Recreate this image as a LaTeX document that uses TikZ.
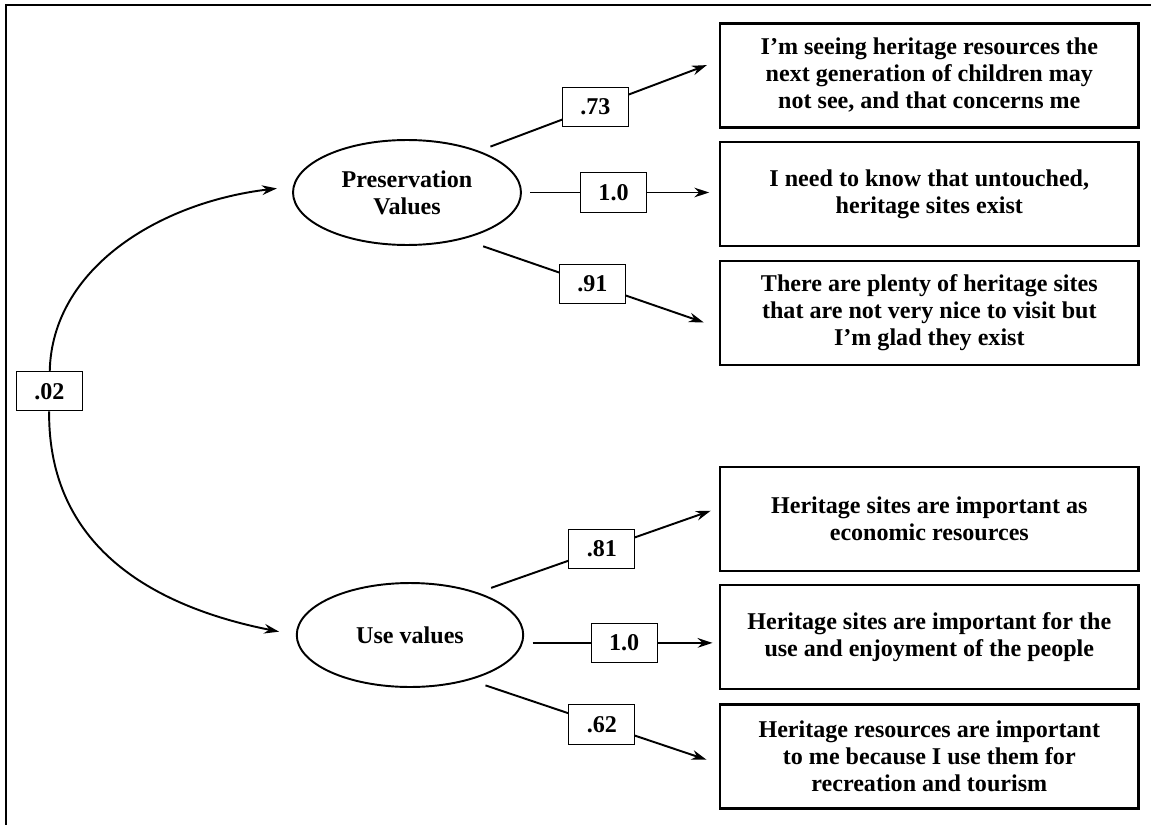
\documentclass[tikz,border=0pt]{standalone}
\usepackage{fontspec}
\setmainfont{Liberation Serif}
\usetikzlibrary{shapes.geometric, arrows.meta}

\begin{document}
\begin{tikzpicture}[x=0.02cm, y=-0.02cm, font=\fontsize{13.7pt}{15.4pt}\selectfont\bfseries,
    latent/.style={ellipse, draw, line width=1.1pt, inner sep=0, align=center},
    indicator/.style={draw, line width=1.4pt, minimum width=8.37cm, minimum height=2.08cm, inner sep=0, align=center},
    coef/.style={draw, line width=0.6pt, fill=white, minimum width=1.32cm, minimum height=0.786cm, inner sep=0},
    load/.style={line width=1.1pt, -{Stealth[length=8.5pt, width=5.5pt]}}]
  \useasboundingbox (0,0) rectangle (1151,824);
  \draw[line width=0.9pt] (6,830) -- (6,5) -- (1160,5);

  \node[latent, minimum width=4.56cm, minimum height=2.1cm] (pv) at (407,192.5) {Preservation\\Values};
  \node[latent, minimum width=4.53cm, minimum height=2.08cm] (uv) at (410,635) {Use values};

  \node[indicator] (i1) at (929.3,75.3) {I'm seeing heritage resources the\\next generation of children may\\not see, and that concerns me};
  \node[indicator] (i2) at (929.3,193.9) {I need to know that untouched,\\heritage sites exist};
  \node[indicator] (i3) at (929.3,312.9) {There are plenty of heritage sites\\that are not very nice to visit but\\I'm glad they exist};
  \node[indicator] (i4) at (929.3,518.9) {Heritage sites are important as\\economic resources};
  \node[indicator] (i5) at (929.3,637) {Heritage sites are important for the\\use and enjoyment of the people};
  \node[indicator] (i6) at (929.3,756.5) {Heritage resources are important\\to me because I use them for\\recreation and tourism};

  \draw[load, shorten <=6.9pt, shorten >=7.3pt] (pv.30) -- (i1.176) node[coef, pos=0.485] {.73};
  \draw[load, shorten <=4.6pt, shorten >=5.5pt] (pv.east) -- (pv.east -| i2.west) node[coef, pos=0.465] {1.0};
  \draw[load, shorten <=12.3pt, shorten >=9.1pt] (pv.-40) -- (i3.184) node[coef, pos=0.506] {.91};
  \draw[load, shorten <=7.9pt, shorten >=4.9pt] (uv.32) -- (i4.177) node[coef, pos=0.514] {.81};
  \draw[load, shorten <=5.5pt, shorten >=3.6pt] (uv.-4) -- (uv.-4 -| i5.west) node[coef, pos=0.517] {1.0};
  \draw[load, shorten <=9.4pt, shorten >=7.4pt] (uv.-37) -- (i6.182) node[coef, pos=0.53] {.62};

  \node[coef] (cov) at (49.3,391.3) {.02};
  \draw[load, shorten >=9.1pt] (cov) .. controls (52,268) and (159.5,202.4) .. (pv.177);
  \draw[load, shorten >=9.7pt] (cov) .. controls (48,545) and (150,606) .. (uv.west);
\end{tikzpicture}
\end{document}
